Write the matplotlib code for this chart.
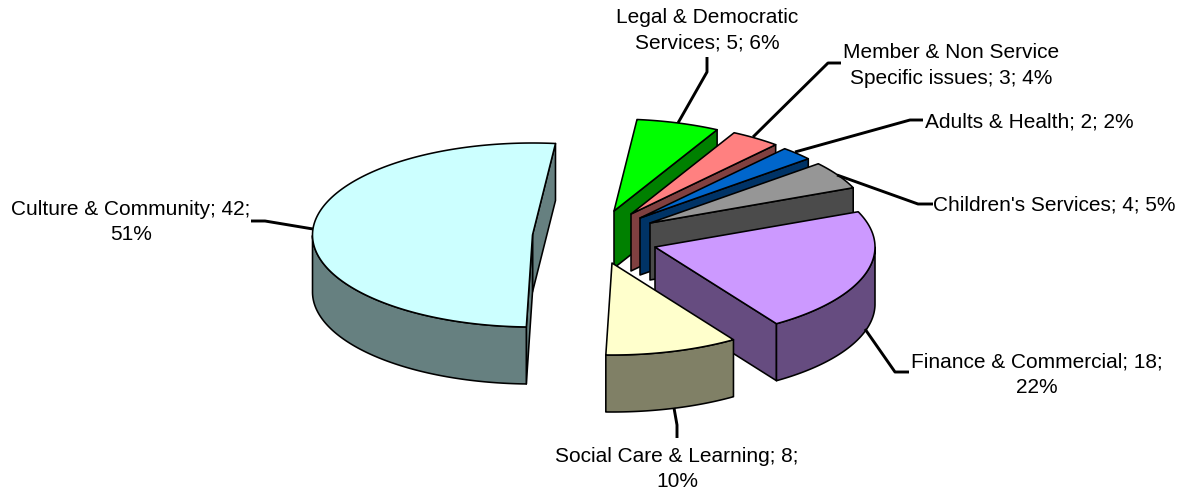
import numpy as np
import matplotlib
matplotlib.use("Agg")
import matplotlib.pyplot as plt
from matplotlib.patches import Polygon

plt.rcParams['font.family'] = ['Liberation Sans', 'DejaVu Sans']

# --- data, in clockwise order from the top of the pie ---
categories = ["Legal & Democratic\nServices", "Member & Non Service\nSpecific issues",
              "Adults & Health", "Children's Services", "Finance & Commercial",
              "Social Care & Learning", "Culture & Community"]
values = [5, 3, 2, 4, 18, 8, 42]
percents = [6, 4, 2, 5, 22, 10, 51]
label_breaks = [" ", " ", " ", " ", "\n", "\n", "\n"]  # before the percent

top_colors = ["#00FF00", "#FF8080", "#0066CC", "#969696", "#CC99FF", "#FFFFCC", "#CCFFFF"]
side_colors = ["#008000", "#804040", "#003366", "#4B4B4B", "#664C80", "#808066", "#668080"]

# --- layout, in pixels of the 1186x490 picture ---
START_ANGLE = 84.0
RX, RY, DEPTH = 220, 92, 57
centers = [(614, 211), (631, 214), (640, 218), (650, 223), (655, 247), (612, 263), (532.5, 235)]
label_pos = [(707, 30), (951, 65.5), (1029, 122), (1054, 205), (1037, 375), (677, 469), (131, 222)]
leaders = [
    [(707, 57), (707, 72), (678, 123)],
    [(841, 63), (828, 63), (753, 137)],
    [(923, 120), (910, 120), (795, 152)],
    [(933, 204), (918, 204), (837, 175)],
    [(865, 329), (895, 372), (909, 372)],
    [(674, 408), (677, 425), (677, 438)],
    [(313, 229), (265, 221), (251, 221)],
]


def rim(center, angles):
    t = np.radians(angles)
    return np.column_stack([center[0] + RX * np.cos(t), center[1] - RY * np.sin(t)])


def add_poly(ax, pts, color):
    ax.add_patch(Polygon(pts, closed=True, facecolor=color, edgecolor="black",
                         linewidth=1.15, joinstyle="round"))


def draw_slice(ax, center, hi, lo, top_color, side_color):
    apex = np.array(center, dtype=float)
    down = np.array([0, DEPTH])

    # cut faces, only where they look towards the viewer
    if np.sin(np.radians(lo - 90)) < 0:
        p = rim(center, [lo])[0]
        add_poly(ax, [apex, p, p + down, apex + down], side_color)
    if np.cos(np.radians(hi)) < 0:
        p = rim(center, [hi])[0]
        add_poly(ax, [apex, p, p + down, apex + down], side_color)

    # outer wall, the front half of the rim only
    wall = np.linspace(hi, lo, 200)
    wall = wall[np.sin(np.radians(wall)) < 0]
    if len(wall):
        pts = rim(center, wall)
        add_poly(ax, np.vstack([pts, pts[::-1] + down]), side_color)

    add_poly(ax, np.vstack([apex, rim(center, np.linspace(hi, lo, 200))]), top_color)


def main():
    fig = plt.figure(figsize=(11.86, 4.9), dpi=100)
    ax = fig.add_axes([0, 0, 1, 1])
    ax.set_xlim(0, 1186)
    ax.set_ylim(490, 0)
    ax.axis("off")

    sweep = 360.0 * np.array(values) / sum(values)
    hi = START_ANGLE - np.concatenate([[0], np.cumsum(sweep)[:-1]])
    lo = hi - sweep

    for i in range(len(values)):
        draw_slice(ax, centers[i], hi[i], lo[i], top_colors[i], side_colors[i])

    for pts in leaders:
        xs, ys = zip(*pts)
        ax.plot(xs, ys, color="black", linewidth=2.1, solid_capstyle="butt")

    for i in range(len(values)):
        label = f"{categories[i]}; {values[i]};{label_breaks[i]}{percents[i]}%"
        ax.text(label_pos[i][0], label_pos[i][1], label, ha="center", va="center",
                fontsize=15, linespacing=1.42, color="black")

    fig.savefig("out.png", dpi=100, facecolor="white")
    plt.close(fig)


if __name__ == "__main__":
    main()
